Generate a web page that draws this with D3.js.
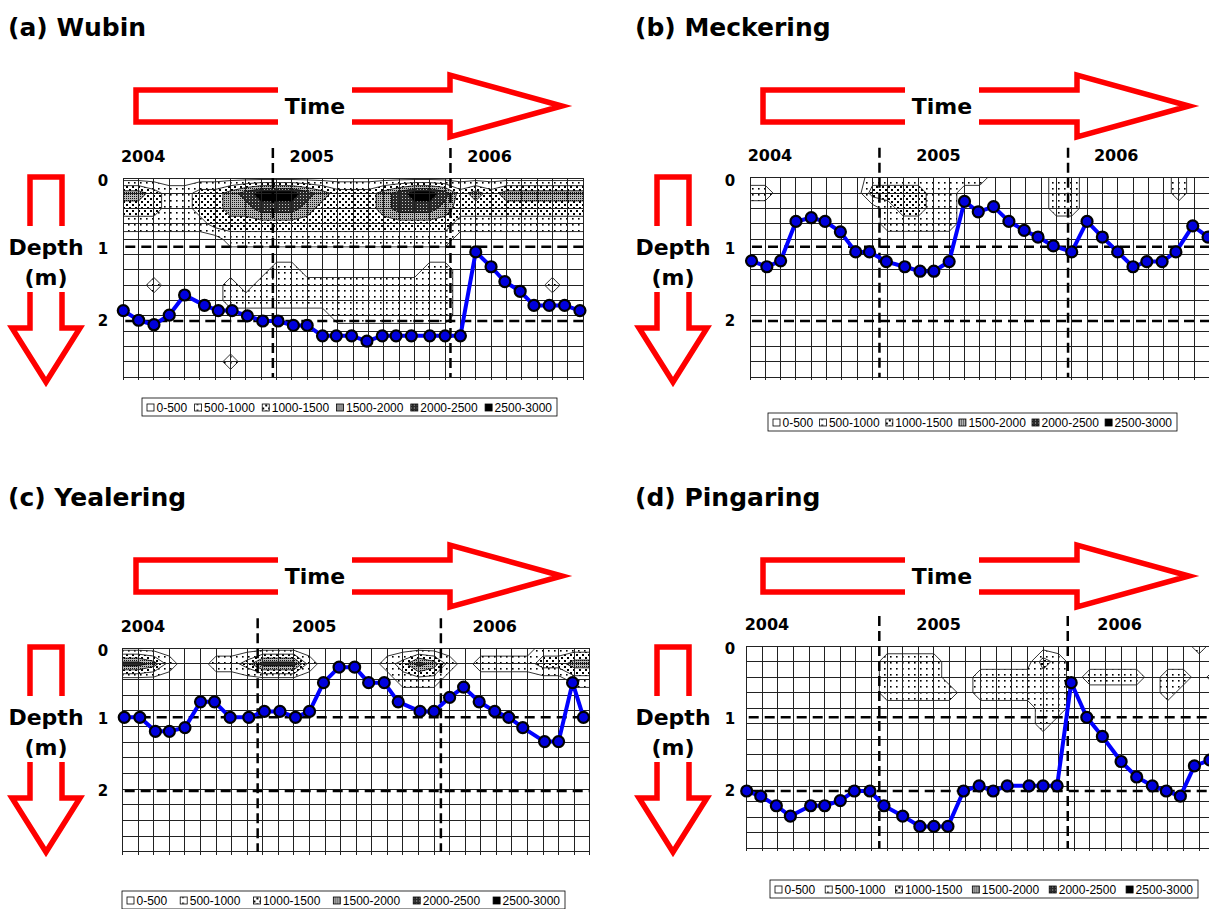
<!DOCTYPE html>
<html>
<head>
<meta charset="utf-8">
<script src="https://cdn.jsdelivr.net/npm/d3@7"></script>
<style>
  body { margin: 0; background: #fff; }
  svg { display: block; font-family: "DejaVu Sans", Verdana, sans-serif; }
</style>
</head>
<body>
<script>
const titles = ["(a) Wubin", "(b) Meckering", "(c) Yealering", "(d) Pingaring"];
const yearLabels = ["2004", "2005", "2006"];
const yearLabelMonth = [1.3, 12.3, 23.9];
const depthTicks = [0, 1, 2];
const legendLabels = ["0-500", "500-1000", "1000-1500", "1500-2000", "2000-2500", "2500-3000"];
const contourThresholds = [500, 1000, 1500, 2000, 2500];
const bandSize = 500; // one grid digit = one 500-wide band

// water table: months since first reading, depth (m)
const wubinMonth = [0, 1, 2, 3, 4, 5.3, 6.2, 7.1, 8.1, 9.1, 10.1, 11.1, 12, 13, 13.9, 14.9, 15.9, 16.9, 17.8, 18.8, 20, 21, 22, 23, 24, 24.9, 25.9, 26.8, 27.8, 28.8, 29.8];
const wubinDepth = [1.86, 1.99, 2.05, 1.92, 1.65, 1.79, 1.86, 1.86, 1.93, 2.0, 2.0, 2.06, 2.06, 2.2, 2.2, 2.2, 2.27, 2.2, 2.2, 2.2, 2.2, 2.2, 2.2, 1.07, 1.27, 1.47, 1.6, 1.79, 1.79, 1.79, 1.86];
const meckeringMonth = [0.1, 1.1, 2, 3, 4, 4.9, 5.9, 6.9, 7.8, 8.9, 10.1, 11.1, 12, 13, 14, 14.9, 15.9, 16.9, 17.9, 18.8, 19.8, 21, 22, 23, 24, 25, 25.9, 26.9, 27.8, 28.9, 29.9];
const meckeringDepth = [1.19, 1.27, 1.19, 0.66, 0.61, 0.66, 0.8, 1.07, 1.07, 1.2, 1.27, 1.33, 1.33, 1.2, 0.39, 0.53, 0.46, 0.66, 0.78, 0.87, 0.99, 1.07, 0.66, 0.87, 1.07, 1.27, 1.2, 1.2, 1.07, 0.72, 0.87];
const yealeringMonth = [0.1, 1.1, 2.1, 3, 4, 5, 5.9, 6.9, 8.1, 9.1, 10.1, 11.1, 12, 12.9, 13.9, 14.9, 15.8, 16.8, 17.7, 19.1, 20, 21, 21.9, 22.9, 23.9, 24.8, 25.7, 27.1, 28, 28.9, 29.6];
const yealeringDepth = [1.0, 1.0, 1.19, 1.19, 1.14, 0.79, 0.79, 1.0, 1.0, 0.92, 0.92, 1.0, 0.92, 0.53, 0.32, 0.32, 0.53, 0.53, 0.79, 0.92, 0.92, 0.73, 0.59, 0.79, 0.92, 1.0, 1.14, 1.33, 1.33, 0.53, 1.0];
const pingaringMonth = [0, 0.9, 1.9, 2.8, 4.1, 5, 6, 6.9, 7.9, 8.8, 10, 11.1, 12, 12.9, 13.9, 14.9, 15.8, 16.7, 18.1, 19, 19.9, 20.8, 21.8, 22.8, 24, 25, 26, 26.9, 27.8, 28.7, 29.7];
const pingaringDepth = [2.0, 2.07, 2.2, 2.34, 2.2, 2.2, 2.13, 2.0, 2.0, 2.2, 2.34, 2.48, 2.48, 2.48, 2.0, 1.93, 2.0, 1.93, 1.93, 1.93, 1.93, 0.53, 1.0, 1.26, 1.6, 1.81, 1.93, 2.0, 2.07, 1.66, 1.58];

// month of the 1 Jan boundaries
const wubinYearLine = [9.76, 21.35];
const meckeringYearLine = [8.45, 20.76];
const yealeringYearLine = [8.67, 20.44];
const pingaringYearLine = [8.5, 20.58];

// EM band per grid node (rows = depth, cols = month), digit n -> band n*500..(n+1)*500
const wubinGrid = [
  "0000000000000000000000000000000",
  "3321122345554322234554232333333",
  "2221122334443222234443222222222",
  "1111112222222222222222111111111",
  "0000000111111111111111000000000",
  "0000000000000000000000000000000",
  "0000000000110000000011000000000",
  "0010000101111111111111000000100",
  "0000000111111111111111000000000",
  "0000000000000011111111000000000",
  "0000000000000000000000000000000",
  "0000000000000000000000000000000",
  "0000000100000000000000000000000",
  "0000000000000000000000000000000",
];
const meckeringGrid = [
  "0000000011111111000011000000100",
  "1100000022221100000011000000100",
  "0000000001221100000011000000000",
  "0000000001111100000000000000000",
];
const yealeringGrid = [
  "0000000000000000000000000001111",
  "4431001124441000012431011112233",
  "0000000000000000001110000000011",
];
const pingaringGrid = [
  "0000000000000000000000000000010",
  "0000000001111000000210000000000",
  "0000000001111001111110111101101",
  "0000000001111101111110000001000",
  "0000000000000000000110000000000",
  "0000000000000000000100000000000",
];

const series = [
  { month: wubinMonth, depth: wubinDepth, yearLine: wubinYearLine, grid: wubinGrid },
  { month: meckeringMonth, depth: meckeringDepth, yearLine: meckeringYearLine, grid: meckeringGrid },
  { month: yealeringMonth, depth: yealeringDepth, yearLine: yealeringYearLine, grid: yealeringGrid },
  { month: pingaringMonth, depth: pingaringDepth, yearLine: pingaringYearLine, grid: pingaringGrid },
];

// panel geometry (pixels)
const layout = [
  { ox: 0, oy: 0, x0: 123.3, w: 459.7, y0: 178, h: 199, y1: 246.7, y2: 321, lx: 142, ly: 398, lw: 415 },
  { ox: 627, oy: 0, x0: 750, w: 459.6, y0: 177.7, h: 199.3, y1: 246.7, y2: 321, lx: 768, ly: 413, lw: 409 },
  { ox: 0, oy: 470, x0: 122.7, w: 467, y0: 648.3, h: 203.4, y1: 717.3, y2: 791, lx: 122, ly: 891, lw: 443 },
  { ox: 627, oy: 470, x0: 746.7, w: 468, y0: 646, h: 202.3, y1: 717.3, y2: 791, lx: 770, ly: 880, lw: 428 },
];
const COLS = 31, ROWS = 14;

function drawPatterns(defs) {
  const mk = (id, w, h, bg) => {
    const p = defs.append("pattern").attr("id", id).attr("patternUnits", "userSpaceOnUse")
      .attr("width", w).attr("height", h);
    p.append("rect").attr("width", w).attr("height", h).attr("fill", bg);
    return p;
  };
  const dot = (p, x, y, s, c) => p.append("rect").attr("x", x).attr("y", y).attr("width", s).attr("height", s).attr("fill", c);
  // 500-1000 sparse dots
  dot(mk("lvl1", 6, 6, "#fff"), 2, 2, 1.6, "#000");
  // 1000-1500 dense dots
  const p2 = mk("lvl2", 6, 6, "#fff");
  dot(p2, 0, 0, 2, "#000");
  dot(p2, 3, 3, 2, "#000");
  // 1500-2000 grey checker
  const p3 = mk("lvl3", 2, 2, "#b8b8b8");
  dot(p3, 0, 0, 1, "#111");
  // 2000-2500 dark
  dot(mk("lvl4", 3, 3, "#2a2a2a"), 0, 0, 1, "#ccc");
  mk("lvl5", 2, 2, "#000");
}

function drawArrows(g) {
  // time arrow
  g.append("path")
    .attr("d", d3.line()([[136, 90], [450, 90], [450, 75], [562, 106], [450, 137], [450, 122], [136, 122]]) + "Z")
    .attr("fill", "none").attr("stroke", "#ff0000").attr("stroke-width", 5.5);
  g.append("rect").attr("x", 278).attr("y", 84).attr("width", 74).attr("height", 44).attr("fill", "#fff");
  g.append("text").attr("x", 315).attr("y", 106).attr("text-anchor", "middle").attr("dominant-baseline", "central")
    .attr("font-weight", "bold").attr("font-size", 22).text("Time");

  // depth arrow
  g.append("path")
    .attr("d", d3.line()([[30, 177], [62, 177], [62, 328], [80, 328], [46, 382], [12, 328], [30, 328]]) + "Z")
    .attr("fill", "none").attr("stroke", "#ff0000").attr("stroke-width", 5.5);
  g.append("rect").attr("x", 22).attr("y", 226).attr("width", 50).attr("height", 66).attr("fill", "#fff");
  g.append("text").attr("x", 46).attr("y", 247).attr("text-anchor", "middle").attr("dominant-baseline", "central")
    .attr("font-weight", "bold").attr("font-size", 22).text("Depth");
  g.append("text").attr("x", 46).attr("y", 277).attr("text-anchor", "middle").attr("dominant-baseline", "central")
    .attr("font-weight", "bold").attr("font-size", 22).text("(m)");
}

function drawLegend(svg, L) {
  const lg = svg.append("g").attr("font-family", "'Liberation Sans', Arial, sans-serif").attr("font-size", 12);
  lg.append("rect").attr("x", L.lx).attr("y", L.ly).attr("width", L.lw).attr("height", 18)
    .attr("fill", "#fff").attr("stroke", "#000").attr("stroke-width", 0.8);
  const items = lg.selectAll("g.item").data(legendLabels).join("g").attr("class", "item");
  items.append("rect").attr("x", 0).attr("y", -3.5).attr("width", 7).attr("height", 7)
    .attr("fill", (d, k) => (k === 0 ? "#fff" : `url(#lvl${k})`)).attr("stroke", "#000").attr("stroke-width", 0.8);
  items.append("text").attr("x", 9.5).attr("y", 0.5).attr("dominant-baseline", "central").text((d) => d);
  const widths = items.nodes().map((n) => n.querySelector("text").getComputedTextLength() + 9.5);
  const pad = 5;
  const gap = (L.lw - 2 * pad - d3.sum(widths)) / (legendLabels.length - 1);
  let cx = L.lx + pad;
  items.attr("transform", (d, k) => {
    const t = `translate(${cx},${L.ly + 9.5})`;
    cx += widths[k] + gap;
    return t;
  });
}

function drawPanel(svg, i) {
  const L = layout[i];
  const s = series[i];
  const x = d3.scaleLinear().domain([0, COLS - 1]).range([L.x0, L.x0 + L.w]);
  const row = d3.scaleLinear().domain([0, ROWS - 1]).range([L.y0, L.y0 + L.h]);
  const y = d3.scaleLinear().domain([1, 2]).range([L.y1, L.y2]);
  const yLabel = d3.scaleLinear().domain(depthTicks).range([L.y0 + 3, L.y1 + 2, L.y2]);

  // title
  svg.append("text").attr("x", L.ox + 8).attr("y", L.oy + 27).attr("dominant-baseline", "central")
    .attr("font-weight", "bold").attr("font-size", 25).text(titles[i]);

  drawArrows(svg.append("g").attr("transform", `translate(${L.ox},${L.oy})`));

  svg.append("clipPath").attr("id", "clip" + i).append("rect")
    .attr("x", L.x0).attr("y", L.y0).attr("width", L.w).attr("height", L.h);

  // contour bands
  const values = [];
  for (let r = 0; r < ROWS; r++) {
    (s.grid[r] || "").padEnd(COLS, "0").split("").forEach((c) => values.push(+c * bandSize + bandSize / 2));
  }
  const bands = d3.contours().size([COLS, ROWS]).thresholds(contourThresholds)(values);
  const proj = d3.geoTransform({
    point(px, py) { this.stream.point(x(px - 0.5), row(py - 0.5)); },
  });
  svg.append("g").attr("clip-path", `url(#clip${i})`)
    .selectAll("path").data(bands).join("path")
    .attr("d", d3.geoPath(proj))
    .attr("fill", (d, k) => `url(#lvl${k + 1})`)
    .attr("stroke", "#000").attr("stroke-width", 0.8);

  // grid
  const grid = svg.append("g").attr("stroke", "#222").attr("stroke-width", 1).attr("shape-rendering", "crispEdges");
  grid.selectAll("line.v").data(x.ticks(COLS - 1)).join("line").attr("class", "v")
    .attr("x1", (d) => x(d)).attr("x2", (d) => x(d)).attr("y1", L.y0).attr("y2", L.y0 + L.h + 3);
  grid.selectAll("line.h").data(row.ticks(ROWS - 1)).join("line").attr("class", "h")
    .attr("x1", L.x0).attr("x2", L.x0 + L.w).attr("y1", (d) => row(d)).attr("y2", (d) => row(d));

  // dashed reference lines
  const dash = svg.append("g").attr("stroke", "#000").attr("stroke-width", 2.5);
  dash.selectAll("line.dh").data([1, 2]).join("line").attr("class", "dh")
    .attr("x1", L.x0 + 2).attr("x2", L.x0 + L.w).attr("y1", (d) => y(d)).attr("y2", (d) => y(d))
    .attr("stroke-dasharray", "10,6");
  dash.selectAll("line.dv").data(s.yearLine).join("line").attr("class", "dv")
    .attr("x1", (d) => x(d)).attr("x2", (d) => x(d)).attr("y1", L.y0 - 30).attr("y2", L.y0 + L.h)
    .attr("stroke-dasharray", "10,5");

  // labels
  svg.selectAll(null).data(yearLabels).join("text")
    .attr("x", (d, k) => x(yearLabelMonth[k])).attr("y", L.y0 - 22)
    .attr("text-anchor", "middle").attr("dominant-baseline", "central")
    .attr("font-weight", "bold").attr("font-size", 16).text((d) => d);
  svg.selectAll(null).data(depthTicks).join("text")
    .attr("x", L.ox + 103).attr("y", (d) => yLabel(d))
    .attr("text-anchor", "middle").attr("dominant-baseline", "central")
    .attr("font-weight", "bold").attr("font-size", 15).text((d) => d);

  // water table line
  const pts = s.month.map((m, k) => [m, s.depth[k]]);
  svg.append("path").datum(pts)
    .attr("d", d3.line().x((d) => x(d[0])).y((d) => y(d[1])))
    .attr("fill", "none").attr("stroke", "#0000ff").attr("stroke-width", 4).attr("stroke-linejoin", "round");
  svg.append("g").selectAll("circle").data(pts).join("circle")
    .attr("cx", (d) => x(d[0])).attr("cy", (d) => y(d[1])).attr("r", 5.5)
    .attr("fill", "#0000dd").attr("stroke", "#000").attr("stroke-width", 2.2);

  drawLegend(svg, L);
}

function draw() {
  const svg = d3.select("body").append("svg").attr("width", 1209).attr("height", 909);
  drawPatterns(svg.append("defs"));
  for (let i = 0; i < layout.length; i++) drawPanel(svg, i);
}

draw();
</script>
</body>
</html>
